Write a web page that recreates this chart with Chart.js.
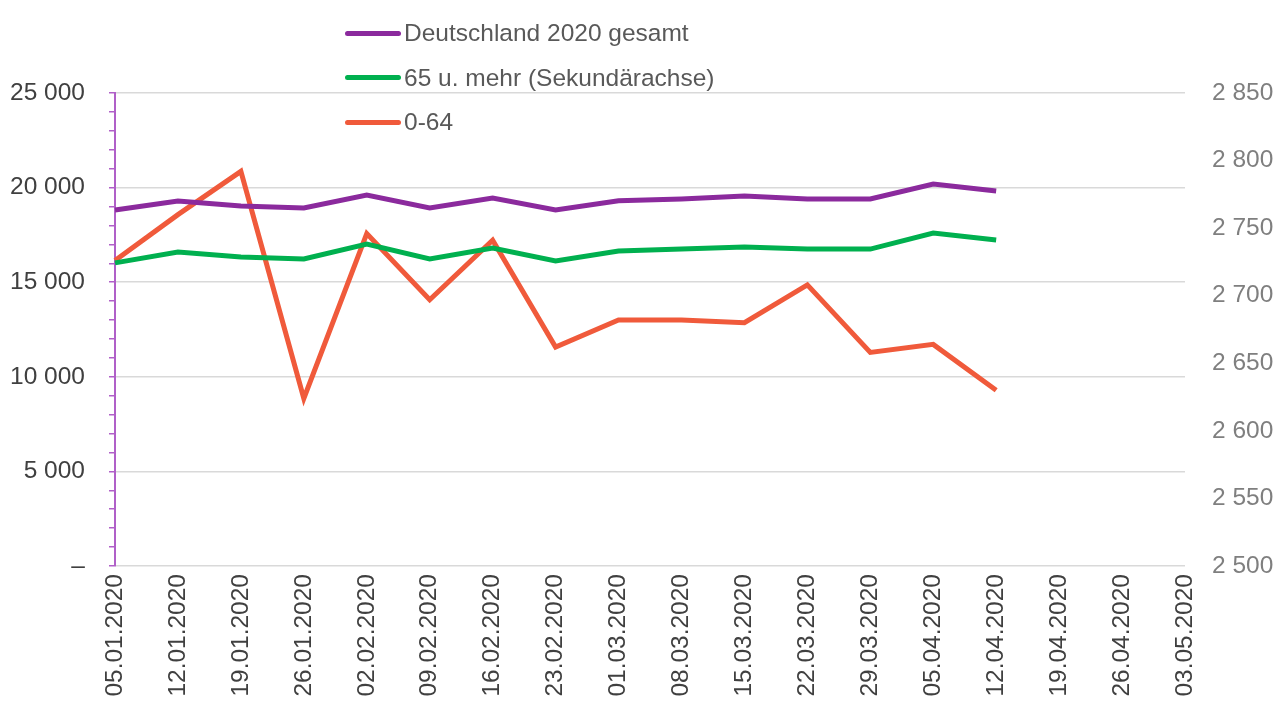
<!DOCTYPE html>
<html lang="de">
<head>
<meta charset="utf-8">
<script src="https://cdn.jsdelivr.net/npm/chart.js@4.4.1/dist/chart.umd.min.js"></script>
<style>
  html, body { margin: 0; padding: 0; background: #ffffff; }
  #wrap { position: relative; width: 1283px; height: 709px; }
  #legend { position: absolute; left: 345px; top: 11px; font-family: "Liberation Sans", Arial, sans-serif; font-size: 24.5px; color: #595959; }
  .item { display: flex; align-items: center; height: 44.5px; }
  .swatch { width: 56px; height: 5px; border-radius: 3px; margin-right: 3px; }
</style>
</head>
<body>
<div id="wrap">
  <canvas id="c" width="1283" height="709"></canvas>
  <div id="legend"></div>
</div>
<script>
const categories = ["05.01.2020","12.01.2020","19.01.2020","26.01.2020","02.02.2020","09.02.2020","16.02.2020","23.02.2020","01.03.2020","08.03.2020","15.03.2020","22.03.2020","29.03.2020","05.04.2020","12.04.2020","19.04.2020","26.04.2020","03.05.2020"];

const seriesNames = ["Deutschland 2020 gesamt", "65 u. mehr (Sekundärachse)", "0-64"];

const gesamt = [18820, 19290, 19030, 18920, 19610, 18920, 19450, 18820, 19300, 19400, 19560, 19400, 19400, 20190, 19820];
const ab65 = [16020, 16600, 16330, 16230, 17020, 16230, 16810, 16120, 16650, 16750, 16860, 16750, 16750, 17600, 17230];
const bis64 = [2726, 2760, 2792, 2624, 2746, 2697, 2741, 2662, 2682, 2682, 2680, 2708, 2658, 2664, 2630];

const leftTicks = { min: 0, max: 25000, major: 5000, minor: 1000 };
const rightTicks = { min: 2500, max: 2850, step: 50 };

const colors = ["#8B2A9D", "#00B04F", "#F05A3B"];

function fmt(v) {
  if (v === 0) return "–";
  return String(v).replace(/\B(?=(\d{3})+(?!\d))/g, " ");
}

const FONT = "'Liberation Sans', Arial, sans-serif";
const FS = 24.5;

const chart = new Chart(document.getElementById("c"), {
  type: "line",
  data: {
    labels: categories,
    datasets: [
      { label: seriesNames[0], data: gesamt, yAxisID: "y", borderColor: colors[0], backgroundColor: colors[0] },
      { label: seriesNames[1], data: ab65, yAxisID: "y", borderColor: colors[1], backgroundColor: colors[1] },
      { label: seriesNames[2], data: bis64, yAxisID: "y1", borderColor: colors[2], backgroundColor: colors[2] }
    ]
  },
  options: {
    responsive: false,
    animation: false,
    devicePixelRatio: 1,
    layout: { padding: { top: 93, left: 0, right: 0, bottom: 0 } },
    elements: {
      line: { borderWidth: 5, tension: 0, borderJoinStyle: "miter", borderCapStyle: "butt" },
      point: { radius: 0, hoverRadius: 0 }
    },
    plugins: { legend: { display: false }, tooltip: { enabled: false } },
    scales: {
      x: {
        type: "category",
        offset: false,
        grid: { display: false, drawTicks: false },
        border: { display: false },
        ticks: {
          color: "#404040",
          font: { family: FONT, size: FS },
          minRotation: 90, maxRotation: 90,
          autoSkip: false,
          padding: 8
        },
        afterFit(scale) { scale.height = 143; }
      },
      y: {
        position: "left",
        min: leftTicks.min, max: leftTicks.max,
        grid: {
          color: (ctx) => (ctx.tick && ctx.tick.value % leftTicks.major === 0) ? "#D9D9D9" : "rgba(0,0,0,0)",
          lineWidth: 1.5,
          drawTicks: true,
          tickLength: 6,
          tickColor: "#B060C8",
          tickWidth: 1.5
        },
        border: { display: true, color: "#B060C8", width: 2 },
        ticks: {
          stepSize: leftTicks.minor,
          maxTicksLimit: 100,
          autoSkip: false,
          color: "#404040",
          font: { family: FONT, size: FS },
          padding: 24,
          callback: (v) => (v % leftTicks.major === 0) ? fmt(v) : ""
        },
        afterFit(scale) { scale.width = 115; }
      },
      y1: {
        position: "right",
        min: rightTicks.min, max: rightTicks.max,
        grid: { display: false, drawTicks: false },
        border: { display: false },
        ticks: {
          stepSize: rightTicks.step,
          color: "#7F7F7F",
          font: { family: FONT, size: FS },
          padding: 27,
          callback: (v) => fmt(v)
        },
        afterFit(scale) { scale.width = 98; }
      }
    }
  }
});

const legend = document.getElementById("legend");
chart.data.datasets.forEach((ds) => {
  const row = document.createElement("div");
  row.className = "item";
  const sw = document.createElement("span");
  sw.className = "swatch";
  sw.style.background = ds.borderColor;
  const txt = document.createElement("span");
  txt.textContent = ds.label;
  row.appendChild(sw);
  row.appendChild(txt);
  legend.appendChild(row);
});
</script>
</body>
</html>
